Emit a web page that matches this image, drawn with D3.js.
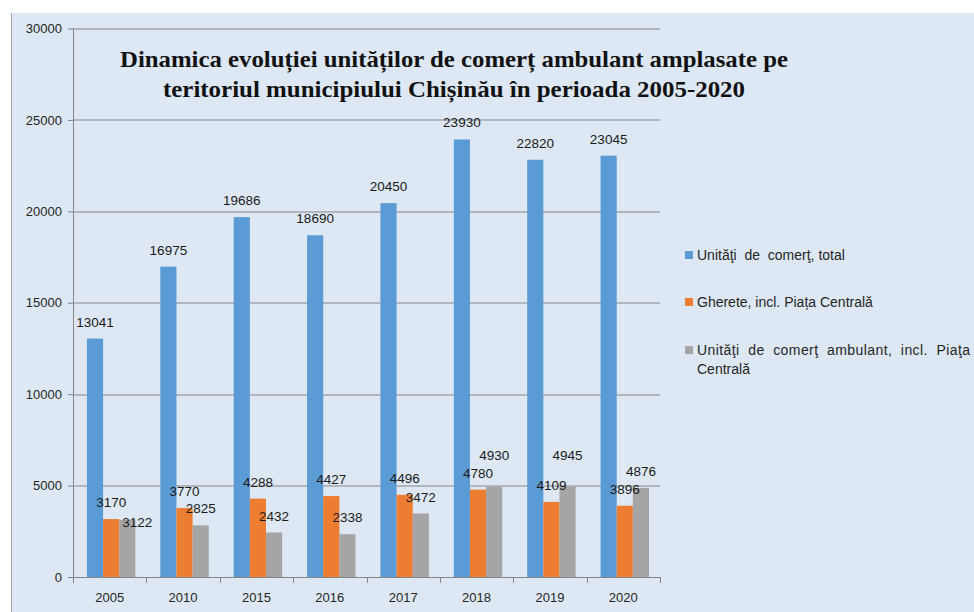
<!DOCTYPE html>
<html lang="ro">
<head>
<meta charset="utf-8" />
<title>Dinamica evoluției unităților de comerț ambulant</title>
<script src="https://d3js.org/d3.v7.min.js"></script>
<style>
  body { margin: 0; background: #fff; }
  .axis text { font-family: "Liberation Sans", Arial, sans-serif; font-size: 13px; fill: #262626; }
  .axis path, .axis line { stroke: #868686; }
  .lbl { font-family: "Liberation Sans", Arial, sans-serif; font-size: 13.5px; fill: #1a1a1a; }
  .legend text { font-family: "Liberation Sans", Arial, sans-serif; font-size: 14px; fill: #262626; white-space: pre; }
</style>
</head>
<body>
<script>
  // data
  const years = ["2005", "2010", "2015", "2016", "2017", "2018", "2019", "2020"];
  const total = [13041, 16975, 19686, 18690, 20450, 23930, 22820, 23045];
  const gherete = [3170, 3770, 4288, 4427, 4496, 4780, 4109, 3896];
  const ambulant = [3122, 2825, 2432, 2338, 3472, 4930, 4945, 4876];
  const seriesNames = [
    "Unităţi  de  comerţ, total",
    "Gherete, incl. Piața Centrală",
    "Unităţi  de  comerţ  ambulant,  incl.  Piaţa"
  ];
  const colors = ["#5b9bd5", "#ed7d31", "#a5a5a5"];
  const yTicks = [0, 5000, 10000, 15000, 20000, 25000, 30000];

  const W = 974, H = 612;
  const margin = { left: 73, right: 314, top: 28.5, bottom: 35 };
  const width = W - margin.left - margin.right;
  const height = H - margin.top - margin.bottom;

  const svg = d3.select("body").append("svg").attr("width", W).attr("height", H);

  // chart background
  svg.append("rect").attr("x", 11).attr("y", 13).attr("width", W - 11).attr("height", H - 13)
    .attr("fill", "#dde8f4");
  svg.append("line").attr("x1", 11.5).attr("x2", 11.5).attr("y1", 13).attr("y2", H)
    .attr("stroke", "#a6a6a6");

  const g = svg.append("g").attr("transform", `translate(${margin.left},${margin.top})`);

  const x = d3.scaleBand().domain(years).range([0, width]).paddingInner(0).paddingOuter(0);
  // bars sit a little right of the category centre, like in the original
  const x1 = d3.scaleBand().domain([0, 1, 2]).range([x.bandwidth() * 0.19, x.bandwidth() * 0.85]);
  const y = d3.scaleLinear().domain([0, 30000]).range([height, 0]);

  // gridlines
  g.append("g").selectAll("line").data(yTicks.slice(1)).join("line")
    .attr("x1", 0).attr("x2", width)
    .attr("y1", d => Math.round(y(d)) + 0.5).attr("y2", d => Math.round(y(d)) + 0.5)
    .attr("stroke", "#868686");

  // y axis
  const gy = g.append("g").attr("class", "axis")
    .call(d3.axisLeft(y).tickValues(yTicks).tickFormat(d3.format("d")).tickSize(5).tickPadding(6));
  gy.select(".domain").attr("d", `M0.5,${height}V0`);

  // x axis
  const gx = g.append("g").attr("class", "axis").attr("transform", `translate(0,${height})`);
  gx.append("path").attr("d", `M0,0.5H${width}`).attr("stroke", "#868686");
  gx.selectAll(".tk").data(d3.range(years.length + 1)).join("line")
    .attr("x1", i => Math.round(i * x.step()) + 0.5).attr("x2", i => Math.round(i * x.step()) + 0.5)
    .attr("y1", 0).attr("y2", 6).attr("stroke", "#868686");
  gx.selectAll("text").data(years).join("text")
    .attr("x", d => x(d) + x.bandwidth() / 2).attr("y", 25)
    .attr("text-anchor", "middle").text(d => d);

  // bars
  const series = [total, gherete, ambulant];
  const rows = [];
  series.forEach((vals, s) => vals.forEach((v, i) => rows.push({ s, i, year: years[i], v })));

  g.append("g").selectAll("rect").data(rows).join("rect")
    .attr("x", d => x(d.year) + x1(d.s))
    .attr("width", x1.bandwidth())
    .attr("y", d => y(d.v))
    .attr("height", d => height - y(d.v))
    .attr("fill", d => colors[d.s]);

  // value labels; grey label nudged when it would collide with the orange one
  function labelPos(d) {
    let dx = 0, dy = -12;
    if (d.s === 2) {
      const o = gherete[d.i];
      if (Math.abs(y(o) - y(d.v)) < 16) {
        if (d.v >= o) dy -= 15;
        else { dx = 10; dy = 7; }
      }
    }
    return [x(d.year) + x1(d.s) + x1.bandwidth() / 2 + dx, y(d.v) + dy];
  }
  g.append("g").selectAll("text").data(rows).join("text")
    .attr("class", "lbl")
    .attr("x", d => labelPos(d)[0])
    .attr("y", d => labelPos(d)[1])
    .attr("text-anchor", "middle")
    .text(d => d.v);

  // title
  const title = svg.append("g").attr("font-family", "'Liberation Serif', 'Times New Roman', serif")
    .attr("font-weight", "bold").attr("font-size", 24).attr("fill", "#111");
  title.append("text").attr("x", 120).attr("y", 67).attr("textLength", 668)
    .attr("lengthAdjust", "spacingAndGlyphs")
    .text("Dinamica evoluției unităților de comerț ambulant amplasate pe");
  title.append("text").attr("x", 163).attr("y", 97).attr("textLength", 582)
    .attr("lengthAdjust", "spacingAndGlyphs")
    .text("teritoriul municipiului  Chișinău în perioada 2005-2020");

  // legend
  const legend = svg.append("g").attr("class", "legend");
  const ly = [255, 302, 350];
  seriesNames.forEach((name, i) => {
    legend.append("rect").attr("x", 685).attr("y", ly[i] - 4).attr("width", 8).attr("height", 8)
      .attr("fill", colors[i]);
    const t = legend.append("text").attr("x", 697).attr("y", ly[i] + 5).text(name);
    if (i === 2) t.attr("textLength", 273).attr("lengthAdjust", "spacing");
  });
  legend.append("text").attr("x", 697).attr("y", 374).text("Centrală");
</script>
</body>
</html>
